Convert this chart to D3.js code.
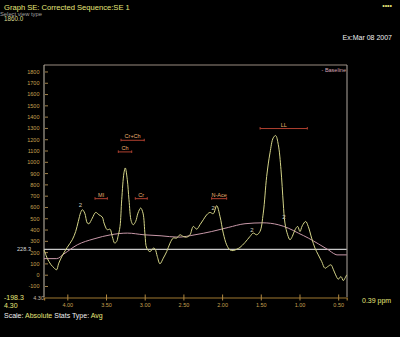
<!DOCTYPE html>
<html><head><meta charset="utf-8">
<script src="https://cdn.jsdelivr.net/npm/d3@7"></script>
<style>html,body{margin:0;padding:0;background:#000;}svg{display:block;}</style>
</head><body>
<svg id="c" width="400" height="337"></svg>
<script>
// ---- data ----
const specPpm = [4.30,4.26,4.21,4.17,4.14,4.11,4.06,4.00,3.936,3.892,3.858,3.827,3.806,3.775,3.742,3.720,3.677,3.633,3.591,3.548,3.526,3.483,3.449,3.419,3.388,3.362,3.345,3.319,3.297,3.268,3.251,3.225,3.203,3.173,3.148,3.117,3.087,3.052,3.022,2.996,2.974,2.932,2.889,2.867,2.837,2.803,2.760,2.716,2.673,2.631,2.587,2.544,2.502,2.458,2.415,2.372,2.328,2.286,2.243,2.199,2.157,2.114,2.070,2.027,1.985,1.941,1.898,1.856,1.812,1.769,1.704,1.640,1.597,1.553,1.511,1.468,1.424,1.381,1.339,1.308,1.274,1.239,1.210,1.188,1.153,1.123,1.093,1.058,1.024,0.994,0.964,0.920,0.887,0.843,0.800,0.757,0.713,0.671,0.636,0.593,0.564,0.533,0.499,0.464,0.434,0.412,0.39];
const specVal = [224,151,92,64,47,107,180,248,314,387,476,556,580,550,462,456,506,556,535,515,462,402,408,343,284,299,343,432,669,906,950,846,669,476,447,476,550,595,550,358,240,209,240,233,165,101,151,209,284,329,329,358,343,337,358,432,408,447,491,535,556,545,616,520,373,269,224,218,230,246,290,343,373,358,387,550,875,1084,1217,1237,1157,935,639,462,358,314,343,402,432,387,438,476,432,329,240,180,121,62,76,92,53,3,-35,-12,-48,-26,3];
const basePpm = [4.30,4.137,4.043,3.871,3.655,3.439,3.225,3.009,2.789,2.566,2.350,2.134,1.920,1.704,1.471,1.274,1.145,1.015,0.886,0.757,0.628,0.541,0.515,0.39];
const baseVal = [147,147,189,269,322,358,373,358,349,337,358,387,423,456,464,447,417,373,329,278,225,186,180,180];
const peakNames = ["MI","Ch","Cr+Ch","Cr","N-Ace","LL"];
const peakFrom  = [3.642,3.341,3.306,3.122,2.135,1.509];
const peakTo    = [3.483,3.168,3.006,2.967,1.941,0.899];
const peakLevel = [678,1092,1195,678,678,1299];
const yTicks = [-100,0,100,200,300,400,500,600,700,800,900,1000,1100,1200,1300,1400,1500,1600,1700,1800];
const xTicks = [4.00,3.50,3.00,2.50,2.00,1.50,1.00,0.50];
const refLevel = 228.3;
const yMin = -198.3, yMax = 1860.0;
const xStart = 4.30, xEnd = 0.39;
const markPpm = [3.83,2.115,1.615,1.2];
const markVal = [605,575,380,500];

// ---- drawing ----
const svg = d3.select("#c");
const F = "'Liberation Sans', Arial, sans-serif";
svg.append("rect").attr("width",400).attr("height",337).attr("fill","#000");

const x = d3.scaleLinear().domain([xStart, xEnd]).range([44.1, 346.7]);
const y = d3.scaleLinear().domain([yMin, yMax]).range([297.6, 65.2]);

// frame
svg.append("line").attr("x1",44).attr("x2",347).attr("y1",65).attr("y2",65).attr("stroke","#9a8c80").attr("stroke-width",1);
svg.append("line").attr("x1",347).attr("x2",347).attr("y1",65).attr("y2",297).attr("stroke","#b0a8a0").attr("stroke-width",1);
svg.append("line").attr("x1",44).attr("x2",44).attr("y1",65).attr("y2",297).attr("stroke","#c8c0b0").attr("stroke-width",1);

// y axis ticks
const yAx = svg.append("g");
yTicks.forEach(t=>{
  yAx.append("line").attr("x1",45).attr("x2",48).attr("y1",y(t)).attr("y2",y(t)).attr("stroke","#a08048");
  yAx.append("text").attr("x",39.5).attr("y",y(t)).attr("dy","0.35em").attr("text-anchor","end")
    .attr("font-family",F).attr("font-size",5.5).attr("fill","#c8a050").text(t);
});

// x axis
const xAx = d3.axisBottom(x).tickValues(xTicks).tickFormat(d3.format(".2f")).tickSize(3).tickPadding(3);
const gx = svg.append("g").attr("transform","translate(0,297.5)").call(xAx);
gx.select(".domain").attr("stroke","#a07830").attr("stroke-width",1.2);
gx.selectAll(".tick line").attr("stroke","#b08840").attr("y1",-3).attr("y2",3);
gx.selectAll(".tick text").attr("fill","#c8a050").attr("font-family",F).attr("font-size",5.5);
svg.append("text").attr("x",44).attr("y",300).attr("text-anchor","end").attr("font-family",F)
  .attr("font-size",5.5).attr("fill","#c8b8a0").text("4.30");

// reference line
svg.append("line").attr("x1",x(xStart)).attr("x2",x(xEnd)).attr("y1",y(refLevel)).attr("y2",y(refLevel))
  .attr("stroke","#c8c8c8").attr("stroke-width",1.3);
svg.append("text").attr("x",31).attr("y",y(refLevel)).attr("dy","0.35em").attr("text-anchor","end")
  .attr("font-family",F).attr("font-size",5.6).attr("fill","#d8d8d8").text(refLevel.toFixed(1));

// baseline curve
const baseData = basePpm.map((p,i)=>[p,baseVal[i]]);
svg.append("path").datum(baseData).attr("fill","none").attr("stroke","#c898a8").attr("stroke-width",1)
  .attr("d", d3.line().x(d=>x(d[0])).y(d=>y(d[1])).curve(d3.curveMonotoneX));

// spectrum
const specData = specPpm.map((p,i)=>[p,specVal[i]]);
svg.append("path").datum(specData).attr("fill","none").attr("stroke","#d4d488").attr("stroke-width",1)
  .attr("d", d3.line().x(d=>x(d[0])).y(d=>y(d[1])).curve(d3.curveCatmullRom.alpha(0.5)));

// peak markers "2"
markPpm.forEach((p,i)=>{
  svg.append("text").attr("x",x(p)).attr("y",y(markVal[i])).attr("text-anchor","middle")
    .attr("font-family",F).attr("font-size",6).attr("fill","#d0d0c0").text("2");
});

// peak label bars
peakNames.forEach((n,i)=>{
  const x1 = x(peakFrom[i]), x2 = x(peakTo[i]), yy = y(peakLevel[i]);
  svg.append("line").attr("x1",x1).attr("x2",x2).attr("y1",yy).attr("y2",yy).attr("stroke","#b04030").attr("stroke-width",1);
  svg.append("line").attr("x1",x1).attr("x2",x1).attr("y1",yy-1.5).attr("y2",yy+1).attr("stroke","#b04030");
  svg.append("line").attr("x1",x2).attr("x2",x2).attr("y1",yy-1.5).attr("y2",yy+1).attr("stroke","#b04030");
  svg.append("text").attr("x",(x1+x2)/2).attr("y",yy-2).attr("text-anchor","middle")
    .attr("font-family",F).attr("font-size",5.5).attr("fill","#e8b070").text(n);
});

// legend
svg.append("text").attr("x",346).attr("y",72).attr("text-anchor","end").attr("font-family",F)
  .attr("font-size",5.5).attr("fill","#d8a8b8").text("- Baseline");

// header texts
svg.append("text").attr("x",4).attr("y",9.5).attr("font-family",F).attr("font-size",7.6).attr("fill","#e6e67a")
  .text("Graph SE: Corrected Sequence:SE 1");
svg.append("text").attr("x",0).attr("y",15.5).attr("font-family",F).attr("font-size",5.8).attr("fill","#a0a0a0")
  .text("Select view type");
svg.append("text").attr("x",4).attr("y",20.5).attr("font-family",F).attr("font-size",6.3).attr("fill","#d8d890")
  .text(yMax.toFixed(1));
svg.append("text").attr("x",392).attr("y",8).attr("text-anchor","end").attr("font-family",F).attr("font-size",7)
  .attr("fill","#e6e67a").text("••••");
svg.append("text").attr("x",392).attr("y",40).attr("text-anchor","end").attr("font-family",F).attr("font-size",7)
  .attr("fill","#f0f0f0").text("Ex:Mar 08 2007");

// footer texts
svg.append("text").attr("x",4).attr("y",300).attr("font-family",F).attr("font-size",7).attr("fill","#e6e67a").text(yMin.toFixed(1));
svg.append("text").attr("x",4).attr("y",308).attr("font-family",F).attr("font-size",7).attr("fill","#e6e67a").text(xStart.toFixed(2));
svg.append("text").attr("x",362).attr("y",302.5).attr("font-family",F).attr("font-size",7).attr("fill","#e6e67a").text(xEnd.toFixed(2)+" ppm");
const ft = svg.append("text").attr("x",4).attr("y",318).attr("font-family",F).attr("font-size",7);
ft.append("tspan").attr("fill","#f0f0f0").text("Scale: ");
ft.append("tspan").attr("fill","#e6e67a").text("Absolute");
ft.append("tspan").attr("fill","#f0f0f0").text(" Stats Type: ");
ft.append("tspan").attr("fill","#e6e67a").text("Avg");
</script>
</body></html>
